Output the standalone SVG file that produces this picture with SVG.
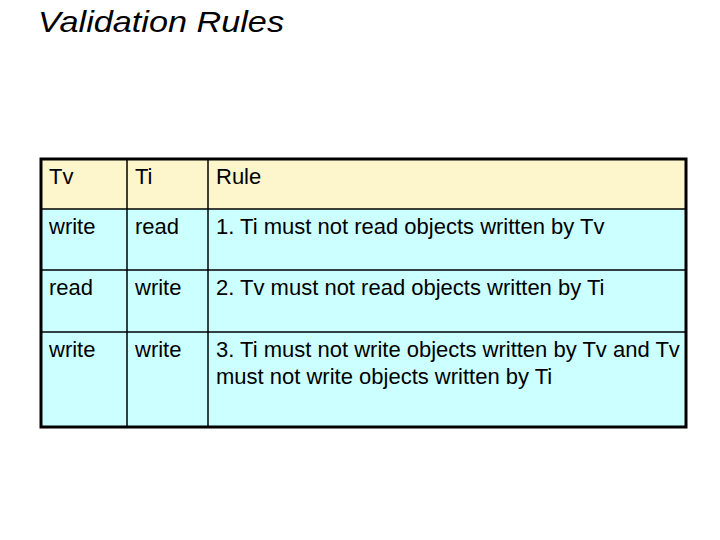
<svg xmlns="http://www.w3.org/2000/svg" width="720" height="540" viewBox="0 0 720 540">
<style>
text{font-family:"Liberation Sans",Arial,sans-serif;font-size:22px;fill:#000}
.g{stroke:#000;stroke-width:1.5;fill:none}
</style>
<rect width="720" height="540" fill="#fff"/>
<text x="38" y="32" style="font-size:30px;font-style:italic" textLength="246" lengthAdjust="spacingAndGlyphs">Validation Rules</text>
<g id="table">
<rect x="41" y="159" width="645" height="50" fill="#fdf6cd"/>
<rect x="41" y="209" width="645" height="218" fill="#ccffff"/>
<g class="g">
<line x1="41" y1="209" x2="686" y2="209"/>
<line x1="41" y1="270" x2="686" y2="270"/>
<line x1="41" y1="332" x2="686" y2="332"/>
<line x1="127" y1="159" x2="127" y2="427"/>
<line x1="208" y1="159" x2="208" y2="427"/>
</g>
<rect x="41" y="159" width="645" height="268" fill="none" stroke="#000" stroke-width="3"/>
</g>
<g id="cells">
<text x="49" y="184">Tv</text><text x="135" y="184">Ti</text><text x="216" y="184">Rule</text>
<text x="49" y="234">write</text><text x="135" y="234">read</text><text x="216" y="234">1. Ti must not read objects written by Tv</text>
<text x="49" y="295">read</text><text x="135" y="295">write</text><text x="216" y="295">2. Tv must not read objects written by Ti</text>
<text x="49" y="357">write</text><text x="135" y="357">write</text><text x="216" y="357">3. Ti must not write objects written by Tv and Tv</text>
<text x="216" y="384">must not write objects written by Ti</text>
</g>
</svg>
